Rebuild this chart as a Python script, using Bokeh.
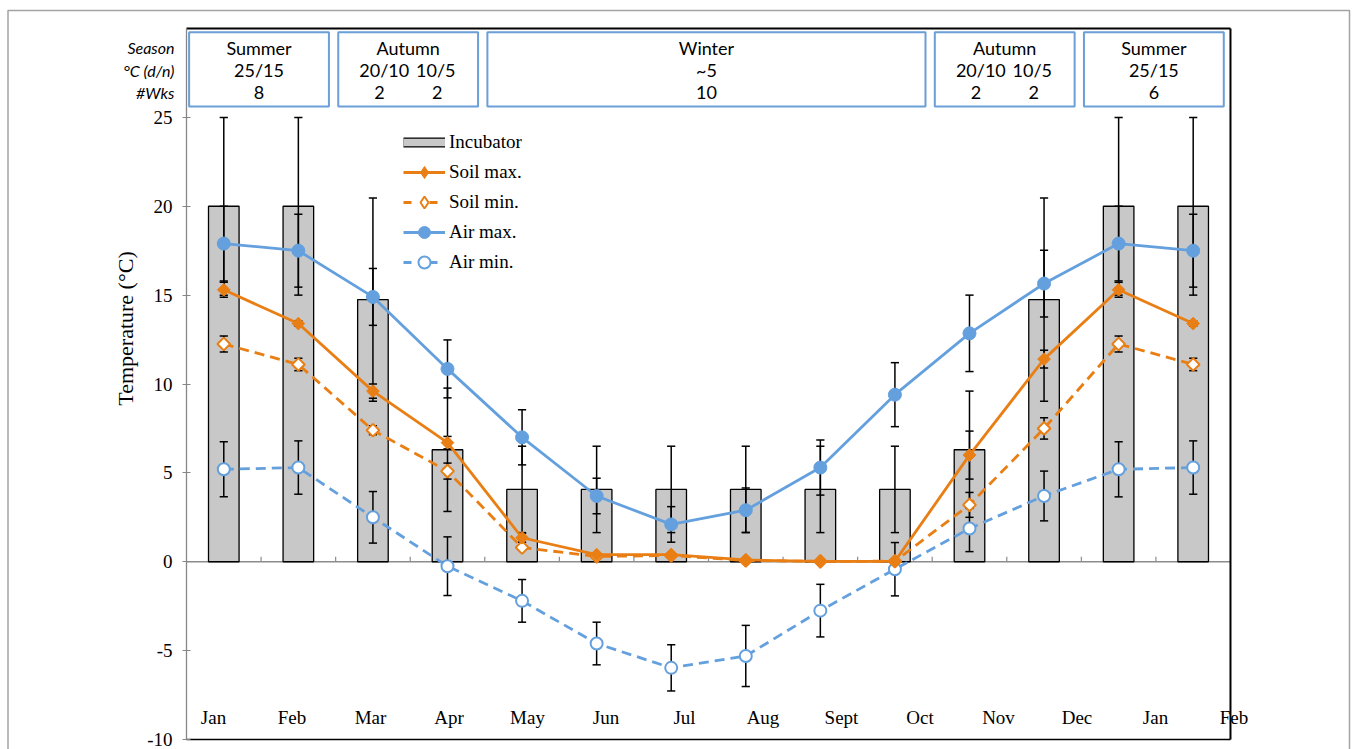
import numpy as np
from bokeh.plotting import figure
from bokeh.models import (Range1d, LinearAxis, FixedTicker, Legend, LegendItem,
                          PrintfTickFormatter)
from bokeh.core.properties import value
from bokeh.embed import file_html
from bokeh.resources import INLINE

# ---------------- data ----------------
months = ["Jan", "Feb", "Mar", "Apr", "May", "Jun", "Jul", "Aug", "Sept", "Oct",
          "Nov", "Dec", "Jan", "Feb"]
incubator = [20, 20, 14.75, 6.3, 4.07, 4.07, 4.07, 4.07, 4.07, 4.07, 6.3, 14.75, 20, 20]
incubator_err = [5, 5, 5.72, 3.47, 2.43, 2.43, 2.43, 2.43, 2.43, 2.43, 3.3, 5.72, 5, 5]
soil_max = [15.3, 13.4, 9.6, 6.7, 1.35, 0.4, 0.4, 0.1, 0.02, 0.02, 6.0, 11.4, 15.3, 13.4]
soil_max_err = [0.42, 0.15, 0.4, 0.35, 0.25, 0.1, 0.1, 0.05, 0.02, 0.02, 1.35, 0.5, 0.42, 0.15]
soil_min = [12.25, 11.1, 7.4, 5.1, 0.8, 0.3, 0.35, 0.07, 0.02, 0.03, 3.2, 7.5, 12.25, 11.1]
soil_min_err = [0.45, 0.35, 0.25, 0.45, 0.15, 0.1, 0.1, 0.05, 0.02, 0.02, 0.7, 0.6, 0.45, 0.35]
air_max = [17.9, 17.5, 14.9, 10.85, 7.0, 3.7, 2.1, 2.9, 5.3, 9.4, 12.85, 15.65, 17.9, 17.5]
air_max_err = [2.1, 2.05, 1.6, 1.63, 1.55, 1.0, 1.0, 1.25, 1.55, 1.8, 2.15, 1.88, 2.1, 2.05]
air_min = [5.2, 5.3, 2.5, -0.25, -2.2, -4.6, -5.97, -5.3, -2.75, -0.42, 1.87, 3.7, 5.2, 5.3]
air_min_err = [1.55, 1.5, 1.45, 1.65, 1.2, 1.2, 1.3, 1.72, 1.48, 1.5, 1.3, 1.4, 1.55, 1.5]

season_names = ["Summer", "Autumn", "Winter", "Autumn", "Summer"]
season_first = [0, 2, 4, 10, 12]
season_last = [1, 3, 9, 11, 13]
season_temps = [["25/15"], ["20/10", "10/5"], ["~5"], ["20/10", "10/5"], ["25/15"]]
season_weeks = [["8"], ["2", "2"], ["10"], ["2", "2"], ["6"]]
header_rows = ["Season", "°C (d/n)", "#Wks"]
y_ticks = [-10, -5, 0, 5, 10, 15, 20, 25]
y_title = "Temperature (°C)"

# ---------------- layout / styles ----------------
ORANGE = "#e97f14"
BLUE = "#64a0de"
SERIF = "Liberation Serif"
SANS = "Lato"
W, H = 1352, 749
X0_PX, X_PX = 186.0, 74.57     # pixel of x=-0.5, pixels per category
Y0_PX, Y_PX = 28.0, 17.775     # pixel of y=30, pixels per degree
Y_LO, Y_HI = -10, 30

def px_x(px):
    return -0.5 + (px - X0_PX) / X_PX

def px_y(py):
    return Y_HI - (py - Y0_PX) / Y_PX

n = len(months)
xs = np.arange(n)
XL, XR = -0.5, n - 0.5

p = figure(width=W, height=H, x_range=Range1d(px_x(0), px_x(W)),
           y_range=Range1d(px_y(H), px_y(0)),
           output_backend="svg", toolbar_location=None, x_axis_type=None, y_axis_type=None,
           min_border_left=0, min_border_right=0, min_border_top=0, min_border_bottom=0,
           outline_line_color=None, background_fill_color="white", border_fill_color="white")
p.xgrid.visible = False
p.ygrid.visible = False

# outer light frame of the figure
p.quad(left=px_x(7.5), right=px_x(W - 3), top=px_y(10), bottom=px_y(H + 20),
       fill_color=None, line_color="#a3a3a3", line_width=1.5)

# zero line and category boundary ticks
p.segment(x0=XL, y0=0, x1=XR, y1=0, line_color="#8c8c8c", line_width=1.5)
bounds = xs[:-1] + 0.5
p.segment(x0=bounds, y0=0, x1=bounds, y1=0.28, line_color="#8c8c8c", line_width=1.2)

# bars
bar_r = p.vbar(x=xs, top=incubator, bottom=0, width=0.41, fill_color="#c8c8c8",
               line_color="black", line_width=1.3)

# error bars
cap = 0.055
def errbars(vals, errs):
    v = np.array(vals, dtype=float)
    e = np.array(errs, dtype=float)
    lo, hi = v - e, v + e
    p.segment(x0=xs, y0=lo, x1=xs, y1=hi, line_color="black", line_width=1.5)
    p.segment(x0=xs - cap, y0=hi, x1=xs + cap, y1=hi, line_color="black", line_width=1.5)
    p.segment(x0=xs - cap, y0=lo, x1=xs + cap, y1=lo, line_color="black", line_width=1.5)

for vals, errs in ((incubator, incubator_err), (air_max, air_max_err),
                   (soil_max, soil_max_err), (soil_min, soil_min_err),
                   (air_min, air_min_err)):
    errbars(vals, errs)

# lines + markers
dash = "10 6"
p.line(xs, air_max, line_color=BLUE, line_width=2.8)
p.scatter(xs, air_max, marker="circle", size=13, fill_color=BLUE, line_color=BLUE)
p.line(xs, air_min, line_color=BLUE, line_width=2.8, line_dash=dash)
p.scatter(xs, air_min, marker="circle", size=12, fill_color="white", line_color=BLUE,
          line_width=2)
p.line(xs, soil_min, line_color=ORANGE, line_width=2.8, line_dash=dash)
p.scatter(xs, soil_min, marker="square", angle=np.pi / 4, size=9, fill_color="white",
          line_color=ORANGE, line_width=2)
p.line(xs, soil_max, line_color=ORANGE, line_width=2.8)
p.scatter(xs, soil_max, marker="square", angle=np.pi / 4, size=9, fill_color=ORANGE,
          line_color=ORANGE)

# inner chart box (top, right, bottom edges; left edge is the y axis)
p.segment(x0=[XL, XR, XL], y0=[Y_HI, Y_HI, Y_LO], x1=[XR, XR, XR], y1=[Y_HI, Y_LO, Y_LO],
          line_color="black", line_width=[2, 2, 1.6])

# y axis drawn at the left edge of the chart box
yax = LinearAxis(ticker=FixedTicker(ticks=y_ticks), formatter=PrintfTickFormatter(format="%d"),
                 fixed_location=XL, bounds=(Y_LO, Y_HI),
                 axis_line_color="#868686", axis_line_width=1.3,
                 major_tick_line_color="#868686", major_tick_in=4, major_tick_out=4,
                 minor_tick_line_color=None,
                 major_label_text_font=SERIF, major_label_text_font_size="19px",
                 major_label_text_color="black", major_label_standoff=10)
p.add_layout(yax, "left")
p.text(x=[px_x(125)], y=[px_y(328)], text=[y_title], angle=np.pi / 2,
       text_font=value(SERIF), text_font_size=value("22px"), text_align="center",
       text_baseline="middle", text_color="black")

# legend swatches: one point each, placed outside the visible area
ox, oy = [XL - 50], [Y_LO - 50]
sw_bar_edge = p.line(ox, oy, line_color="black", line_width=10)
sw_bar_fill = p.line(ox, oy, line_color="#c8c8c8", line_width=7.4)
sw_sx_l = p.line(ox, oy, line_color=ORANGE, line_width=2.8)
sw_sx_m = p.scatter(ox, oy, marker="diamond", fill_color=ORANGE, line_color=ORANGE)
sw_sn_l = p.line(ox, oy, line_color=ORANGE, line_width=2.8, line_dash="8 18")
sw_sn_m = p.scatter(ox, oy, marker="diamond", fill_color="white", line_color=ORANGE,
                    line_width=2)
sw_am_l = p.line(ox, oy, line_color=BLUE, line_width=2.8)
sw_am_m = p.scatter(ox, oy, marker="circle", fill_color=BLUE, line_color=BLUE)
sw_an_l = p.line(ox, oy, line_color=BLUE, line_width=2.8, line_dash="8 18")
sw_an_m = p.scatter(ox, oy, marker="circle", fill_color="white", line_color=BLUE, line_width=2)

legend = Legend(items=[
    LegendItem(label="Incubator", renderers=[sw_bar_edge, sw_bar_fill]),
    LegendItem(label="Soil max.", renderers=[sw_sx_l, sw_sx_m]),
    LegendItem(label="Soil min.", renderers=[sw_sn_l, sw_sn_m]),
    LegendItem(label="Air max.", renderers=[sw_am_l, sw_am_m]),
    LegendItem(label="Air min.", renderers=[sw_an_l, sw_an_m]),
], location=(403, H - 277), border_line_color=None, background_fill_alpha=0,
    label_text_font=SERIF, label_text_font_size="19px", label_text_color="black",
    glyph_width=42, glyph_height=30, spacing=0, padding=0, margin=0, label_standoff=4)
p.add_layout(legend)

# month labels (text box along the bottom)
p.text(x=[px_x(213 + 78.5 * i) for i in range(n)], y=[px_y(717)] * n, text=months,
       text_font=value(SERIF), text_font_size=value("19px"), text_align="center",
       text_baseline="middle", text_color="black")

# season header boxes
row_y = [px_y(47), px_y(69.5), px_y(92)]
box_l = [f - 0.5 + 0.035 for f in season_first]
box_r = [l + 0.5 - 0.09 for l in season_last]
p.quad(left=box_l, right=box_r, bottom=px_y(106), top=px_y(31.7), fill_color="white",
       line_color="#6a9fd8", line_width=2)
tx, ty, tt = [], [], []
for k, name in enumerate(season_names):
    c = (box_l[k] + box_r[k]) / 2
    tx.append(c); ty.append(row_y[0]); tt.append(name)
    for items, row, offs in ((season_temps[k], row_y[1], (-0.32, 0.37)),
                             (season_weeks[k], row_y[2], (-0.385, 0.39))):
        if len(items) == 1:
            tx.append(c); ty.append(row); tt.append(items[0])
        else:
            for it, o in zip(items, offs):
                tx.append(c + o); ty.append(row); tt.append(it)
p.text(x=tx, y=ty, text=tt, text_font=value(SANS), text_font_size=value("18px"),
       text_align="center", text_baseline="middle", text_color="black")

p.text(x=[px_x(174)] * 3, y=row_y, text=header_rows, text_font=value(SANS),
       text_font_style="italic", text_font_size=value("16px"), text_align="right",
       text_baseline="middle", text_color="black")

open("out.html", "w").write(file_html(p, INLINE))
